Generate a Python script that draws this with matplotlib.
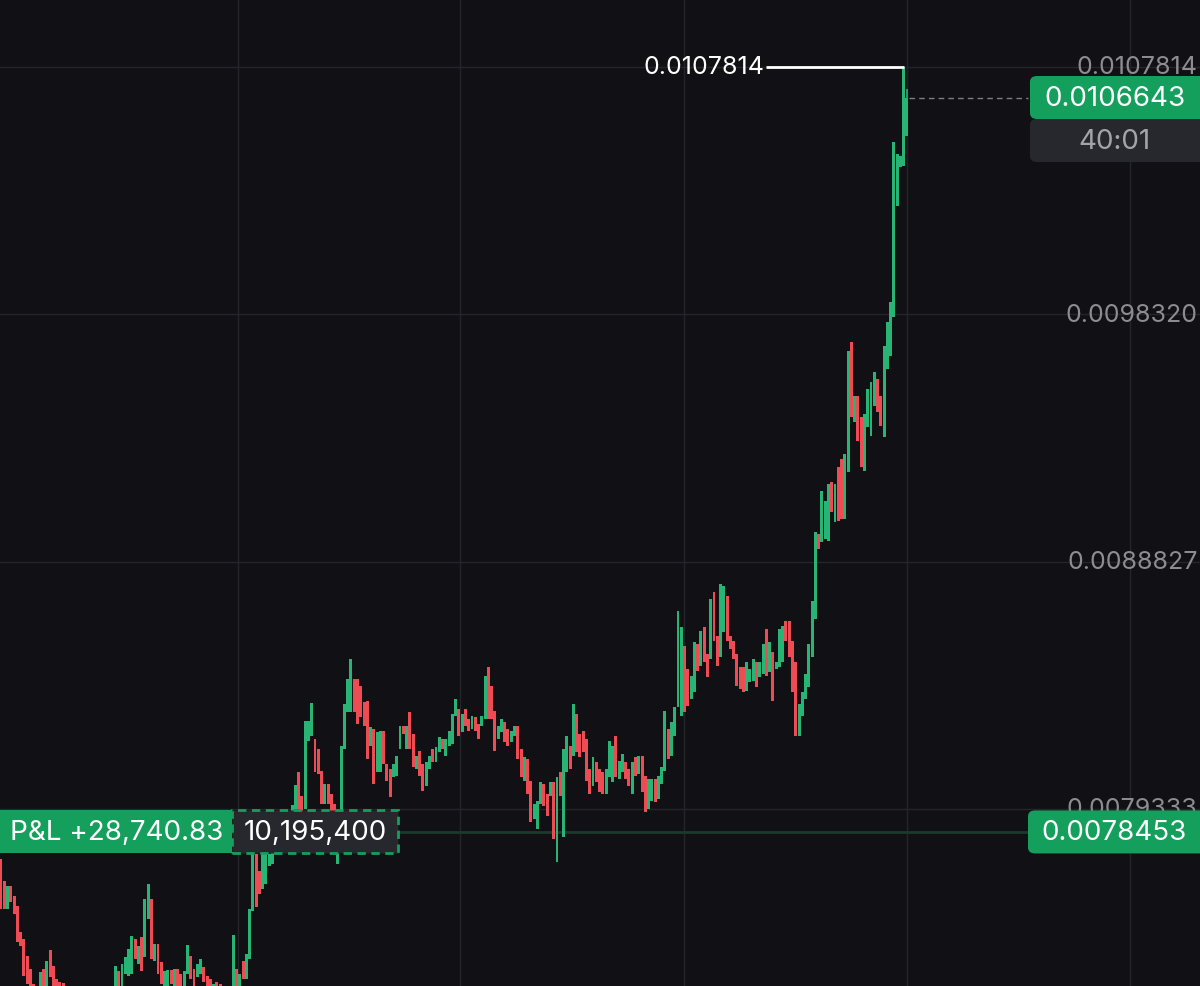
import matplotlib
matplotlib.use("Agg")
import matplotlib.pyplot as plt
from matplotlib.patches import FancyBboxPatch, Rectangle
import numpy as np

# ---------------- data (prices) ----------------
opens = [
0.007741,0.007657,0.007550,0.007638,0.007599,0.007561,0.007461,0.007434,0.007369,0.007319,
0.007262,0.007196,0.007223,0.007319,0.007250,0.007392,0.007331,0.007281,0.007270,0.007266,
0.007223,0.007173,0.007204,0.007166,0.007135,0.007185,0.007127,0.007185,0.007223,0.007173,
0.007234,0.007189,0.007242,0.007204,0.007211,0.007242,0.007311,0.007242,0.007300,0.007292,
0.007300,0.007434,0.007339,0.007442,0.007365,0.007511,0.007588,0.007350,0.007415,0.007346,
0.007242,0.007242,0.007315,0.007242,0.007319,0.007300,0.007242,0.007300,0.007369,0.007319,
0.007288,0.007300,0.007327,0.007292,0.007281,0.007223,0.007270,0.007262,0.007204,0.007242,
0.007204,0.007223,0.007319,0.007242,0.007350,0.007281,0.007358,0.007542,0.007761,0.007695,
0.007626,0.007646,0.007714,0.007722,0.007761,0.007818,0.007780,0.007818,0.007895,0.007876,
0.007933,0.008075,0.007983,0.007933,0.008194,0.008213,0.008202,0.008164,0.008079,0.007953,
0.008030,0.007991,0.007953,0.007722,0.007857,0.008164,0.008306,0.008306,0.008432,0.008432,
0.008405,0.008345,0.008348,0.008175,0.008240,0.008075,0.008075,0.008233,0.008106,0.008087,
0.008056,0.008060,0.008164,0.008252,0.008164,0.008306,0.008221,0.008087,0.008156,0.008106,
0.008022,0.008087,0.008164,0.008114,0.008152,0.008202,0.008137,0.008175,0.008183,0.008290,
0.008317,0.008229,0.008317,0.008279,0.008240,0.008286,0.008260,0.008252,0.008279,0.008478,
0.008405,0.008310,0.008202,0.008229,0.008267,0.008240,0.008190,0.008213,0.008252,0.008164,
0.008041,0.008125,0.008041,0.007895,0.007857,0.007953,0.008030,0.007991,0.007983,0.008037,
0.007730,0.008075,0.007826,0.008075,0.008175,0.008137,0.008298,0.008221,0.008233,0.008202,
0.008087,0.008022,0.008114,0.008087,0.008075,0.007991,0.008056,0.008037,0.008213,0.008049,
0.008075,0.008114,0.008087,0.007991,0.008133,0.008068,0.008137,0.008060,0.007933,0.007964,
0.008049,0.007972,0.008030,0.008079,0.008240,0.008137,0.008213,0.008325,0.008290,0.008559,
0.008471,0.008356,0.008382,0.008567,0.008482,0.008632,0.008528,0.008509,0.008766,0.008597,
0.008517,0.008613,0.008751,0.008597,0.008578,0.008528,0.008478,0.008478,0.008386,0.008421,
0.008425,0.008498,0.008440,0.008452,0.008624,0.008459,0.008536,0.008471,0.008478,0.008498,
0.008655,0.008655,0.008578,0.008498,0.008213,0.008290,0.008356,0.008402,0.008517,0.008663,
0.008989,0.008958,0.008970,0.008962,0.009188,0.009035,0.009246,0.009277,0.009046,0.009227,
0.009726,0.009419,0.009519,0.009438,0.009231,0.009400,0.009365,0.009480,0.009584,0.009519,
0.009361,0.009622,0.009672,0.009822,0.010248,0.010398,0.010401,0.010516,
]
closes = [
0.007550,0.007550,0.007638,0.007576,0.007531,0.007423,0.007407,0.007292,0.007262,0.007223,
0.007204,0.007242,0.007308,0.007242,0.007350,0.007288,0.007242,0.007223,0.007204,0.007185,
0.007166,0.007204,0.007147,0.007127,0.007185,0.007119,0.007204,0.007223,0.007166,0.007242,
0.007185,0.007250,0.007204,0.007242,0.007250,0.007331,0.007242,0.007339,0.007365,0.007396,
0.007446,0.007358,0.007407,0.007311,0.007588,0.007646,0.007358,0.007415,0.007300,0.007262,
0.007311,0.007315,0.007262,0.007319,0.007242,0.007234,0.007311,0.007411,0.007281,0.007242,
0.007339,0.007358,0.007270,0.007242,0.007223,0.007262,0.007234,0.007211,0.007250,0.007196,
0.007242,0.007450,0.007242,0.007300,0.007281,0.007377,0.007550,0.007761,0.007557,0.007607,
0.007768,0.007768,0.007761,0.007768,0.007818,0.007772,0.007857,0.007895,0.007838,0.007949,
0.008026,0.007933,0.007926,0.008271,0.008271,0.008341,0.008075,0.008068,0.007953,0.008030,
0.007953,0.007926,0.007838,0.007876,0.008175,0.008337,0.008432,0.008509,0.008306,0.008260,
0.008286,0.008252,0.008125,0.008248,0.008030,0.008229,0.008233,0.008106,0.008041,0.007979,
0.008106,0.008137,0.008252,0.008221,0.008252,0.008164,0.008094,0.008137,0.008060,0.008002,
0.008114,0.008137,0.008114,0.008171,0.008209,0.008164,0.008202,0.008233,0.008298,0.008356,
0.008213,0.008298,0.008252,0.008233,0.008290,0.008233,0.008202,0.008290,0.008444,0.008279,
0.008279,0.008156,0.008252,0.008279,0.008190,0.008175,0.008233,0.008252,0.008125,0.008056,
0.008133,0.007991,0.007883,0.007953,0.007964,0.008037,0.007945,0.007906,0.008037,0.007818,
0.008056,0.007983,0.008164,0.008213,0.008087,0.008337,0.008152,0.008133,0.008152,0.008041,
0.007991,0.008133,0.008037,0.007999,0.007991,0.008087,0.008194,0.008175,0.008056,0.008118,
0.008145,0.008049,0.008022,0.008114,0.008060,0.008137,0.007999,0.007922,0.008049,0.008049,
0.007960,0.008060,0.008094,0.008310,0.008125,0.008267,0.008325,0.008693,0.008632,0.008306,
0.008329,0.008444,0.008574,0.008463,0.008616,0.008498,0.008440,0.008739,0.008578,0.008482,
0.008797,0.008789,0.008578,0.008547,0.008509,0.008405,0.008394,0.008382,0.008498,0.008471,
0.008509,0.008402,0.008498,0.008567,0.008444,0.008574,0.008348,0.008498,0.008624,0.008636,
0.008578,0.008517,0.008382,0.008213,0.008337,0.008382,0.008452,0.008567,0.008732,0.008997,
0.008931,0.009154,0.009115,0.009181,0.009073,0.009181,0.009038,0.009046,0.009296,0.009691,
0.009438,0.009519,0.009346,0.009246,0.009449,0.009545,0.009572,0.009611,0.009457,0.009403,
0.009710,0.009803,0.009879,0.010493,0.010447,0.010440,0.0107814,0.0106643,
]
last_high = 0.010697

tick_values = [0.0107814, 0.0098320, 0.0088827, 0.0079333]
tick_labels = ["0.0107814", "0.0098320", "0.0088827", "0.0079333"]
session_high = 0.0107814
session_high_label = "0.0107814"
last_price = 0.0106643
last_price_label = "0.0106643"
countdown = "40:01"
entry_price = 0.0078453
entry_label = "0.0078453"
pnl_label = "P&L +28,740.83"
position_size = "10,195,400"
time_grid = [73.5, 141.3, 209.8, 278.0, 346.2]   # candle index of the vertical grid lines

# ---------------- style ----------------
BG = "#111115"
GRID = "#24252a"
GREEN = "#27b474"
RED = "#ee4c55"
BOX_GREEN = "#14a05c"
BOX_DARK = "#27282d"
AXIS_TXT = "#8c8c91"
plt.rcParams['font.family'] = ['Inter', 'DejaVu Sans']

fig = plt.figure(figsize=(12, 9.87), dpi=100, facecolor=BG)
ax = fig.add_axes([0, 0, 1, 1])
ax.set_facecolor(BG)
XL = (0.69, 367.6)
YL = (0.0072539, 0.0110424)
ax.set_xlim(*XL)
ax.set_ylim(*YL)
for s in ax.spines.values():
    s.set_visible(False)
ax.set_xticks([]); ax.set_yticks([])

def yf(p):
    return (p - YL[0]) / (YL[1] - YL[0])

def xd(frac):
    return XL[0] + frac * (XL[1] - XL[0])

# grid
for t in tick_values:
    ax.axhline(t, color=GRID, lw=1.0, zorder=0)
for g in time_grid:
    ax.axvline(g, color=GRID, lw=1.0, zorder=0)

# position line
ax.hlines(entry_price, XL[0], xd(0.857), color="#1a3a2c", lw=2.0, zorder=1)

# candles
o = np.array(opens); c = np.array(closes)
x = np.arange(1, len(o) + 1)
up = c >= o
cols = np.where(up, GREEN, RED)
bottoms = np.minimum(o, c)
heights = np.maximum(np.abs(c - o), 0.6e-6)
ax.bar(x, heights, bottom=bottoms, width=0.9, color=cols, linewidth=0, zorder=3)
ax.vlines(x[-1], c[-1], last_high, color=GREEN, lw=1.2, zorder=3)

# session high marker
hi_idx = int(np.argmax(c)) + 1
ax.hlines(session_high, hi_idx - 42.2, hi_idx, color="white", lw=2.0, zorder=4)
ax.text(hi_idx - 42.5, session_high, session_high_label, color="white", fontsize=18,
        ha="right", va="center", zorder=4)

# last price dashed line
ax.hlines(last_price, x[-1] + 0.6, xd(0.857), color="#7d7e83", lw=1.0,
          linestyles=(0, (4, 3)), zorder=2)

# right axis labels
for t, lab in zip(tick_values, tick_labels):
    ax.text(0.998, t, lab, transform=ax.get_yaxis_transform(), ha="right", va="center",
            color=AXIS_TXT, fontsize=18, zorder=5)

H = 43 / 987
FS = 20
# last price box + countdown
bx0 = 1030 / 1200
ax.add_patch(FancyBboxPatch((bx0, yf(last_price) - H / 2 - H), 0.2, H,
             boxstyle="round,pad=0,rounding_size=0.006", transform=ax.transAxes,
             facecolor=BOX_DARK, edgecolor="none", zorder=6))
ax.add_patch(FancyBboxPatch((bx0, yf(last_price) - H / 2), 0.2, H,
             boxstyle="round,pad=0,rounding_size=0.006", transform=ax.transAxes,
             facecolor=BOX_GREEN, edgecolor="none", zorder=7))
ax.text((1030 + 1200) / 2400, yf(last_price), last_price_label, transform=ax.transAxes,
        ha="center", va="center", color="white", fontsize=FS, zorder=8)
ax.text((1030 + 1200) / 2400, yf(last_price) - H, countdown, transform=ax.transAxes,
        ha="center", va="center", color="#a3a4a9", fontsize=FS, zorder=8)

# entry price box right
ax.add_patch(FancyBboxPatch((1028 / 1200, yf(entry_price) - H / 2), 0.2, H,
             boxstyle="round,pad=0,rounding_size=0.006", transform=ax.transAxes,
             facecolor=BOX_GREEN, edgecolor="none", zorder=7))
ax.text((1028 + 1200) / 2400, yf(entry_price), entry_label, transform=ax.transAxes,
        ha="center", va="center", color="white", fontsize=FS, zorder=8)

# P&L box left
ax.add_patch(Rectangle((0, yf(entry_price) - H / 2), 232 / 1200, H, transform=ax.transAxes,
             facecolor=BOX_GREEN, edgecolor="none", zorder=7))
ax.text(117 / 1200, yf(entry_price), pnl_label, transform=ax.transAxes,
        ha="center", va="center", color="white", fontsize=FS, zorder=8)
ax.add_patch(Rectangle((232 / 1200, yf(entry_price) - H / 2), 166 / 1200, H, transform=ax.transAxes,
             facecolor=BOX_DARK, edgecolor=BOX_GREEN, lw=2, linestyle=(0, (3, 2)), zorder=7))
ax.text(315 / 1200, yf(entry_price), position_size, transform=ax.transAxes,
        ha="center", va="center", color="white", fontsize=FS, zorder=8)

fig.savefig("out.png", dpi=100, facecolor=BG)
